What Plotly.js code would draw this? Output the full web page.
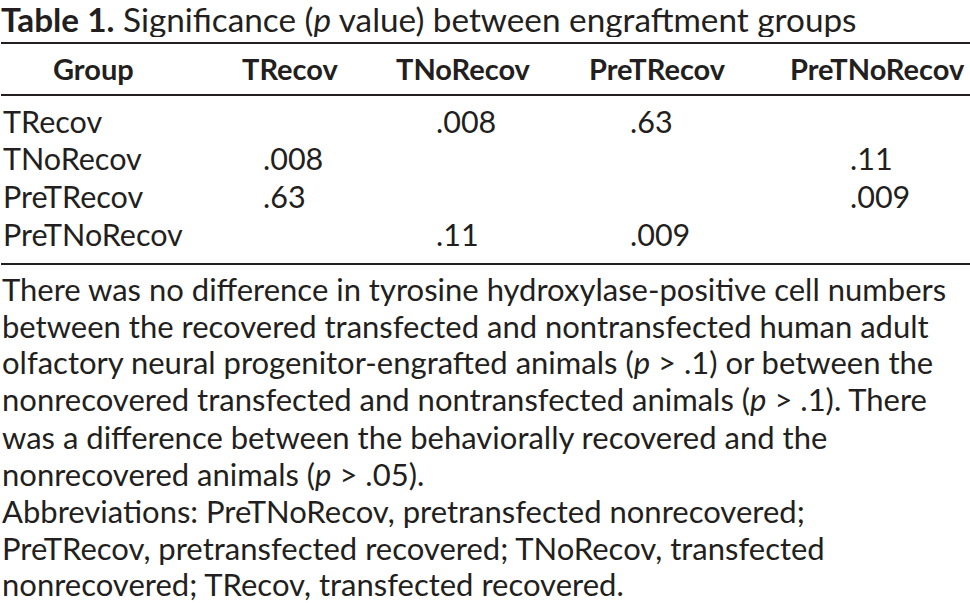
<!DOCTYPE html>
<html>
<head>
<meta charset="utf-8">
<script src="https://cdn.plot.ly/plotly-3.0.1.min.js"></script>
<style>
  html, body { margin: 0; padding: 0; background: #fff; }
  #root { width: 970px; height: 603px; }
</style>
</head>
<body>
<div id="root"></div>
<script>
// table content
const groups = ["TRecov", "TNoRecov", "PreTRecov", "PreTNoRecov"];
const headers = ["Group", "TRecov", "TNoRecov", "PreTRecov", "PreTNoRecov"];
const pTRecov = ["", ".008", ".63", ""];
const pTNoRecov = [".008", "", "", ".11"];
const pPreTRecov = [".63", "", "", ".009"];
const pPreTNoRecov = ["", ".11", ".009", ""];
const pRows = [pTRecov, pTNoRecov, pPreTRecov, pPreTNoRecov];

const titleBold = "Table 1.";
const titleText = " Significance (<i>p</i> value) between engraftment groups";
const notes = [
    "There was no difference in tyrosine hydroxylase-positive cell numbers",
    "between the recovered transfected and nontransfected human adult",
    "olfactory neural progenitor-engrafted animals (<i>p</i> > .1) or between the",
    "nonrecovered transfected and nontransfected animals (<i>p</i> > .1). There",
    "was a difference between the behaviorally recovered and the",
    "nonrecovered animals (<i>p</i> > .05).",
    "Abbreviations: PreTNoRecov, pretransfected nonrecovered;",
    "PreTRecov, pretransfected recovered; TNoRecov, transfected",
    "nonrecovered; TRecov, transfected recovered."
];

// layout helpers (pixel -> paper)
const W = 970, H = 603;
const px = x => x / W;
const py = y => 1 - y / H;

const FONT = "Lato, 'Open Sans', sans-serif";
const ink = "#231f20";

// column centers of header, value offset from the center
const colCenters = [93, 290, 463, 657, 877];
const valOffset = -29;
const headerY = 68;
const rowY = [121, 158, 196, 234];
const noteY = [289, 326, 362, 399, 437, 474, 511, 548, 584];

var annotations = [];

annotations.push({
    xref: 'paper', yref: 'paper', x: px(0), y: 1,
    xanchor: 'left', yanchor: 'top', showarrow: false,
    height: 36, valign: 'middle', borderpad: 0,
    text: "<b>" + titleBold + "</b>" + titleText,
    font: { family: FONT, size: 33.3, color: ink }
});

headers.forEach((h, j) => {
    annotations.push({
        xref: 'paper', yref: 'paper', x: px(colCenters[j]), y: py(headerY),
        xanchor: 'center', yanchor: 'middle', showarrow: false,
        text: "<b>" + h + "</b>",
        font: { family: FONT, size: 29, color: ink }
    });
});

groups.forEach((g, i) => {
    annotations.push({
        xref: 'paper', yref: 'paper', x: px(1), y: py(rowY[i]),
        xanchor: 'left', yanchor: 'middle', showarrow: false,
        text: g,
        font: { family: FONT, size: 30.5, color: ink }
    });
    pRows[i].forEach((v, j) => {
        if (v === "") return;
        annotations.push({
            xref: 'paper', yref: 'paper', x: px(colCenters[j + 1] + valOffset), y: py(rowY[i]),
            xanchor: 'left', yanchor: 'middle', showarrow: false,
            text: v,
            font: { family: FONT, size: 30.5, color: ink }
        });
    });
});

notes.forEach((t, i) => {
    annotations.push({
        xref: 'paper', yref: 'paper', x: px(0), y: py(noteY[i]),
        xanchor: 'left', yanchor: 'middle', showarrow: false,
        text: t,
        font: { family: FONT, size: 31, color: ink }
    });
});

// horizontal rules
const rules = [43, 95, 264];
var shapes = rules.map(y => ({
    type: 'line', xref: 'paper', yref: 'paper',
    x0: px(1), x1: 1, y0: py(y), y1: py(y),
    line: { color: ink, width: 2 }
}));

var layout = {
    width: W, height: H,
    margin: { l: 0, r: 0, t: 0, b: 0 },
    paper_bgcolor: '#fff', plot_bgcolor: '#fff',
    xaxis: { visible: false, range: [0, 1] },
    yaxis: { visible: false, range: [0, 1] },
    showlegend: false,
    annotations: annotations,
    shapes: shapes
};

Plotly.newPlot('root', [], layout, { staticPlot: true });
</script>
</body>
</html>
